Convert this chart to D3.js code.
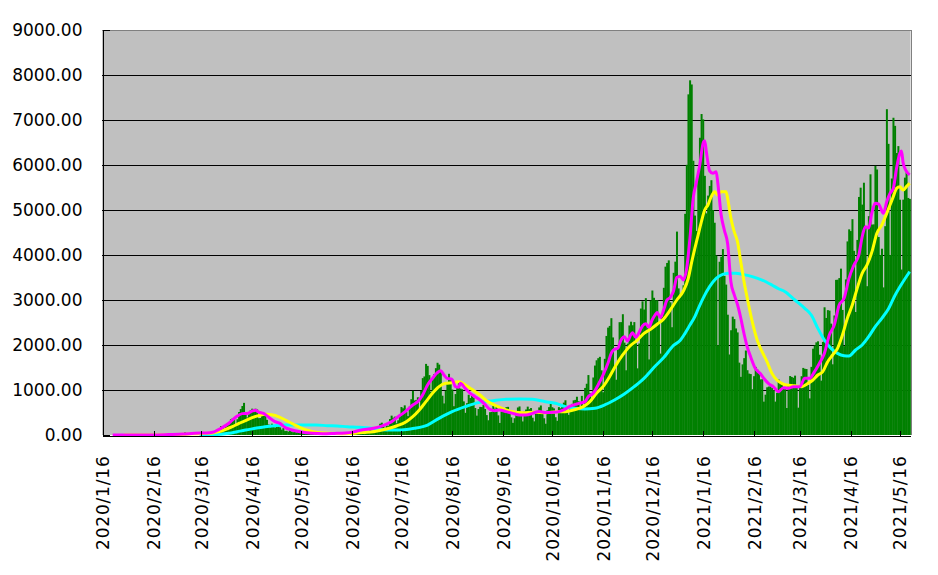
<!DOCTYPE html>
<html><head><meta charset="utf-8">
<script src="https://cdn.jsdelivr.net/npm/d3@7"></script>
<style>
body{margin:0;background:#fff}
svg{display:block}
text{font-family:"DejaVu Sans",sans-serif;font-size:17px;fill:#000}
</style>
</head><body>
<svg id="chart" width="938" height="575"></svg>
<script>
// ---------- DATA ----------
const firstDay = "2020/1/16";
// daily new cases, by month
const cases2020Jan = [1,0,0,0,0,0,0,0,1,1,1,0,2,1,3,2];
const cases2020Feb = [2,0,0,1,0,0,0,0,0,1,0,1,3,8,9,6,6,7,4,10,10,12,7,9,13,14,22,17,10];
const cases2020Mar = [11,14,14,33,33,59,47,33,26,54,52,55,41,64,16,15,44,39,39,53,35,43,38,65,93,96,112,200,173,87,225];
const cases2020Apr = [266,235,351,368,383,240,351,511,576,644,714,507,391,457,549,585,559,584,568,374,378,437,425,437,337,234,169,251,197,165];
const cases2020May = [217,286,170,119,153,87,93,75,119,79,61,82,58,94,73,57,36,54,39,30,26,26,21,14,21,20,30,60,45,40,38];
const cases2020Jun = [34,50,40,30,44,38,30,31,37,32,46,42,41,62,73,47,43,42,36,56,28,31,39,33,57,91,105,93,86,117];
const cases2020Jul = [127,195,250,274,209,155,208,207,355,430,385,408,262,327,448,622,594,659,510,420,631,795,981,768,779,838,598,982,1264,1301,1580];
const cases2020Aug = [1536,1331,958,1237,1354,1485,1605,1565,1442,873,701,986,1176,1360,1227,1011,640,910,1072,1183,1032,1017,747,493,708,894,821,880,832,600,430];
const cases2020Sep = [577,625,621,666,579,443,327,507,511,647,583,650,436,268,523,528,574,619,625,520,392,270,373,482,611,635,470,301,521,566];
const cases2020Oct = [630,575,599,384,303,496,526,613,656,481,372,250,550,619,697,617,591,395,315,619,594,620,719,772,532,448,578,691,770,780,850];
const cases2020Nov = [750,580,870,640,1046,1139,1332,927,759,1278,1543,1660,1707,1737,1437,950,1693,2201,2386,2424,2596,2168,1520,1228,1941,2507,2508,2684,2053,1438];
const cases2020Dec = [2031,2434,2518,2439,2509,2040,1481,2033,2810,2971,2788,3041,2374,1679,2987,3211,3049,2994,2993,2492,1809,2629,3271,3741,3823,3881,2948,2395,3604,3852,4520];
const cases2021Jan = [3258,3060,3158,3326,4915,6004,7570,7882,7790,6094,4876,4536,5866,6605,7133,7014,5759,4925,5320,5535,5662,4997,4717,3990,1993,3850,3960,4131,3535,3342,2673];
const cases2021Feb = [1789,2328,2630,2576,2368,2280,1608,1292,1569,1708,1877,1440,1364,1354,1017,1307,1513,1455,1411,1236,1239,741,896,1060,1076,1079,1042,996];
const cases2021Mar = [742,936,1233,1175,1154,1058,1065,600,1125,1310,1290,1272,1319,1080,607,1080,1306,1491,1471,1466,1114,813,1514,1918,1989,2059,2082,1784,1208,2068,2838];
const cases2021Apr = [2601,2775,2764,2475,1571,2656,3447,3451,3487,3697,2779,1974,3457,4302,4570,4532,4796,4092,2733,4335,5290,5496,5120,5606,4603,3307,4863,5793,4676,4680];
const cases2021May = [5981,5900,4400,4000,4140,3280,4640,7240,6470,4000,5700,7050,6870,6266,6420,5228,3677,5230,5719,5836,5268,5247];

// magenta line
const magentaDates = ["2020/1/22","2020/2/1","2020/2/15","2020/2/25","2020/3/5","2020/3/12","2020/3/19","2020/3/23","2020/3/26","2020/3/29","2020/4/1","2020/4/4","2020/4/7","2020/4/10","2020/4/13","2020/4/16","2020/4/18","2020/4/20","2020/4/23","2020/4/26","2020/4/30","2020/5/3","2020/5/6","2020/5/9","2020/5/13","2020/5/17","2020/5/23","2020/5/29","2020/6/5","2020/6/12","2020/6/17","2020/6/21","2020/6/29","2020/7/3","2020/7/7","2020/7/11","2020/7/14","2020/7/17","2020/7/20","2020/7/23","2020/7/26","2020/7/29","2020/8/1","2020/8/4","2020/8/7","2020/8/9","2020/8/11","2020/8/13","2020/8/16","2020/8/18","2020/8/20","2020/8/21","2020/8/24","2020/8/27","2020/8/30","2020/9/2","2020/9/5","2020/9/8","2020/9/11","2020/9/14","2020/9/18","2020/9/22","2020/9/26","2020/9/30","2020/10/4","2020/10/8","2020/10/12","2020/10/15","2020/10/19","2020/10/23","2020/10/27","2020/10/31","2020/11/5","2020/11/7","2020/11/10","2020/11/13","2020/11/16","2020/11/19","2020/11/21","2020/11/23","2020/11/25","2020/11/27","2020/11/29","2020/12/1","2020/12/3","2020/12/4","2020/12/6","2020/12/8","2020/12/10","2020/12/12","2020/12/14","2020/12/16","2020/12/18","2020/12/19","2020/12/21","2020/12/23","2020/12/25","2020/12/27","2020/12/29","2020/12/31","2021/1/2","2021/1/4","2021/1/6","2021/1/8","2021/1/10","2021/1/12","2021/1/14","2021/1/16","2021/1/17","2021/1/18","2021/1/19","2021/1/20","2021/1/22","2021/1/24","2021/1/25","2021/1/27","2021/1/29","2021/1/31","2021/2/2","2021/2/4","2021/2/6","2021/2/8","2021/2/10","2021/2/12","2021/2/14","2021/2/17","2021/2/20","2021/2/22","2021/2/25","2021/2/28","2021/3/3","2021/3/6","2021/3/9","2021/3/12","2021/3/16","2021/3/19","2021/3/22","2021/3/25","2021/3/28","2021/3/31","2021/4/3","2021/4/6","2021/4/9","2021/4/12","2021/4/15","2021/4/18","2021/4/21","2021/4/23","2021/4/25","2021/4/27","2021/4/29","2021/5/1","2021/5/3","2021/5/6","2021/5/8","2021/5/10","2021/5/12","2021/5/14","2021/5/16","2021/5/17","2021/5/18","2021/5/20","2021/5/22"];
const magentaValues = [0,1,2,10,20,40,45,60,110,170,240,330,420,475,480,530,550,510,480,400,296,259,170,126,89,59,37,28,35,45,70,105,148,185,244,319,407,481,570,667,741,889,1111,1259,1385,1430,1333,1259,1237,1074,1059,1148,1037,926,852,778,681,570,541,556,519,481,444,444,481,525,500,500,510,560,640,690,741,852,926,1111,1333,1593,1815,1904,1926,2111,2185,2090,2230,2270,2170,2280,2420,2470,2400,2560,2680,2720,2610,2780,3000,3060,3200,3500,3530,3444,3700,4370,5259,5630,6000,6480,6540,6300,6050,5870,5815,5850,5600,4900,4550,4250,3400,3120,2900,2600,2250,1950,1740,1470,1360,1260,1140,1070,963,1052,1037,1074,1074,1259,1259,1407,1593,1815,2222,2444,2889,3037,3481,3778,4000,4400,4630,4600,4950,5150,5130,4930,5185,5370,5480,5926,6260,6311,6050,5860,5780];

// yellow line
const yellowDates = ["2020/1/29","2020/2/15","2020/2/29","2020/3/10","2020/3/19","2020/3/23","2020/3/27","2020/3/31","2020/4/4","2020/4/8","2020/4/12","2020/4/16","2020/4/20","2020/4/24","2020/4/28","2020/5/3","2020/5/7","2020/5/11","2020/5/15","2020/5/19","2020/5/23","2020/5/27","2020/6/2","2020/6/10","2020/6/18","2020/6/22","2020/6/29","2020/7/7","2020/7/13","2020/7/19","2020/7/23","2020/7/27","2020/7/31","2020/8/4","2020/8/8","2020/8/12","2020/8/16","2020/8/20","2020/8/24","2020/8/28","2020/9/2","2020/9/6","2020/9/10","2020/9/14","2020/9/18","2020/9/22","2020/9/28","2020/10/5","2020/10/12","2020/10/19","2020/10/24","2020/10/29","2020/11/4","2020/11/8","2020/11/12","2020/11/16","2020/11/20","2020/11/24","2020/11/28","2020/12/2","2020/12/7","2020/12/11","2020/12/15","2020/12/19","2020/12/23","2020/12/27","2020/12/31","2021/1/4","2021/1/7","2021/1/9","2021/1/11","2021/1/13","2021/1/15","2021/1/17","2021/1/19","2021/1/21","2021/1/23","2021/1/25","2021/1/27","2021/1/30","2021/1/31","2021/2/2","2021/2/4","2021/2/6","2021/2/8","2021/2/10","2021/2/12","2021/2/15","2021/2/18","2021/2/21","2021/2/24","2021/2/27","2021/3/2","2021/3/5","2021/3/8","2021/3/13","2021/3/17","2021/3/21","2021/3/24","2021/3/27","2021/3/30","2021/4/2","2021/4/5","2021/4/8","2021/4/11","2021/4/14","2021/4/17","2021/4/20","2021/4/23","2021/4/26","2021/4/29","2021/5/2","2021/5/5","2021/5/8","2021/5/10","2021/5/12","2021/5/14","2021/5/16","2021/5/18","2021/5/20","2021/5/22"];
const yellowValues = [1,2,8,25,37,45,74,126,185,259,319,385,430,459,450,393,319,244,170,111,74,52,37,30,40,55,74,133,200,296,407,556,741,926,1074,1148,1163,1185,1111,1015,889,763,681,615,556,519,496,504,496,515,519,556,630,741,926,1074,1296,1556,1778,1963,2110,2259,2350,2460,2580,2780,3000,3200,3480,3830,4148,4444,4741,5000,5111,5296,5407,5333,5407,5407,5259,4815,4519,4296,3852,3407,3037,2519,2111,1852,1630,1370,1222,1148,1111,1096,1074,1148,1222,1333,1407,1630,1778,1926,2222,2593,2889,3259,3593,3778,4074,4481,4667,4926,5111,5296,5481,5519,5444,5519,5593];

// cyan line
const cyanDates = ["2020/3/15","2020/3/28","2020/4/2","2020/4/7","2020/4/12","2020/4/18","2020/4/24","2020/4/30","2020/5/7","2020/5/19","2020/5/25","2020/6/1","2020/6/7","2020/6/13","2020/6/20","2020/6/28","2020/7/7","2020/7/16","2020/7/24","2020/8/1","2020/8/8","2020/8/16","2020/8/24","2020/9/1","2020/9/10","2020/9/18","2020/9/26","2020/10/4","2020/10/12","2020/10/18","2020/10/24","2020/10/30","2020/11/5","2020/11/11","2020/11/17","2020/11/23","2020/11/29","2020/12/5","2020/12/11","2020/12/17","2020/12/23","2020/12/29","2021/1/2","2021/1/5","2021/1/8","2021/1/11","2021/1/13","2021/1/16","2021/1/20","2021/1/24","2021/1/28","2021/2/1","2021/2/5","2021/2/9","2021/2/15","2021/2/21","2021/2/27","2021/3/3","2021/3/7","2021/3/13","2021/3/19","2021/3/23","2021/3/27","2021/3/31","2021/4/4","2021/4/8","2021/4/12","2021/4/15","2021/4/19","2021/4/23","2021/4/27","2021/5/1","2021/5/5","2021/5/9","2021/5/13","2021/5/17","2021/5/22"];
const cyanValues = [8,18,37,74,111,148,185,207,222,222,222,207,200,185,172,150,111,111,148,222,370,519,630,719,763,793,800,793,741,704,630,593,578,593,667,778,911,1074,1259,1500,1720,1990,2100,2259,2444,2630,2800,3037,3296,3481,3570,3593,3593,3570,3519,3444,3333,3250,3185,3000,2815,2667,2370,2111,1926,1815,1763,1756,1889,2000,2185,2407,2593,2800,3100,3350,3630];

const yTickValues = [0,1000,2000,3000,4000,5000,6000,7000,8000,9000];
const xTickLabels = ["2020/1/16","2020/2/16","2020/3/16","2020/4/16","2020/5/16","2020/6/16","2020/7/16","2020/8/16","2020/9/16","2020/10/16","2020/11/16","2020/12/16","2021/1/16","2021/2/16","2021/3/16","2021/4/16","2021/5/16"];

// ---------- CHART ----------
const parse = d3.timeParse("%Y/%m/%d");
const daily = [].concat(cases2020Jan,cases2020Feb,cases2020Mar,cases2020Apr,cases2020May,cases2020Jun,
  cases2020Jul,cases2020Aug,cases2020Sep,cases2020Oct,cases2020Nov,cases2020Dec,
  cases2021Jan,cases2021Feb,cases2021Mar,cases2021Apr,cases2021May);
const start = parse(firstDay);
const bars = daily.map((v,i)=>({date:d3.timeDay.offset(start,i), value:v}));
const lastDay = bars[bars.length-1].date;

const L=102, R=910.5, T=30, B=435;
const x = d3.scaleTime()
  .domain([d3.timeHour.offset(start,-12), d3.timeHour.offset(lastDay,12)])
  .range([L,R]);
const y = d3.scaleLinear().domain([0,9000]).range([B,T]);
const bw = x(d3.timeDay.offset(start,1)) - x(start);

const svg = d3.select("#chart");
svg.append("rect").attr("x",L).attr("y",T).attr("width",R-L).attr("height",B-T).attr("fill","#C0C0C0");

// grid
svg.append("g").selectAll("line").data(yTickValues.filter(v=>v>0 && v<9000)).join("line")
  .attr("x1",L).attr("x2",R).attr("y1",d=>Math.round(y(d))+0.5).attr("y2",d=>Math.round(y(d))+0.5)
  .attr("stroke","#000").attr("stroke-width",1).attr("shape-rendering","crispEdges");

// bars
svg.append("g").selectAll("rect").data(bars).join("rect")
  .attr("x",d=>x(d.date)-bw/2).attr("width",bw+0.35)
  .attr("y",d=>y(d.value)).attr("height",d=>B-y(d.value))
  .attr("fill","#008000");

// lines
function mk(dates, vals){ return dates.map((s,i)=>({date:parse(s), value:vals[i]})); }
const line = d3.line().x(d=>x(d.date)).y(d=>y(d.value)).curve(d3.curveMonotoneX);
[[cyanDates,cyanValues,"#00FFFF"],[yellowDates,yellowValues,"#FFFF00"],[magentaDates,magentaValues,"#FF00FF"]]
.forEach(([ds,vs,c])=>{
  svg.append("path").datum(mk(ds,vs)).attr("d",line).attr("fill","none")
    .attr("stroke",c).attr("stroke-width",3).attr("stroke-linejoin","round");
});

// border top/right
svg.append("line").attr("x1",L).attr("x2",R+0.5).attr("y1",T+0.5).attr("y2",T+0.5).attr("stroke","#808080").attr("shape-rendering","crispEdges");
svg.append("line").attr("x1",Math.round(R)+0.5).attr("x2",Math.round(R)+0.5).attr("y1",T).attr("y2",B).attr("stroke","#808080").attr("shape-rendering","crispEdges");

// y axis
const yAxis = svg.append("g").attr("transform",`translate(${L+0.5},0)`)
  .call(d3.axisLeft(y).tickValues(yTickValues).tickFormat(d3.format(".2f")).tickSizeInner(-7).tickSizeOuter(0).tickPadding(20));
yAxis.select(".domain").attr("stroke","#000").attr("shape-rendering","crispEdges");
yAxis.selectAll(".tick line").attr("stroke","#000").attr("shape-rendering","crispEdges");
yAxis.selectAll("text").style("font-family","'DejaVu Sans',sans-serif").style("font-size","17px").attr("fill","#000");

// x axis
const xAxis = svg.append("g").attr("transform",`translate(0,${B+0.5})`)
  .call(d3.axisBottom(x).tickValues(xTickLabels.map(parse)).tickFormat(d3.timeFormat("%Y/%-m/%-d")).tickSizeInner(-5).tickSizeOuter(0));
xAxis.select(".domain").attr("stroke","#000").attr("shape-rendering","crispEdges");
xAxis.selectAll(".tick line").attr("stroke","#000").attr("shape-rendering","crispEdges");
xAxis.selectAll("text")
  .attr("transform","rotate(-90)").attr("x",-20).attr("y",0).attr("dy","0.36em")
  .style("text-anchor","end").style("font-family","'DejaVu Sans',sans-serif").style("font-size","17px")
  .style("letter-spacing","0.8px").attr("fill","#000");
</script>
</body></html>
